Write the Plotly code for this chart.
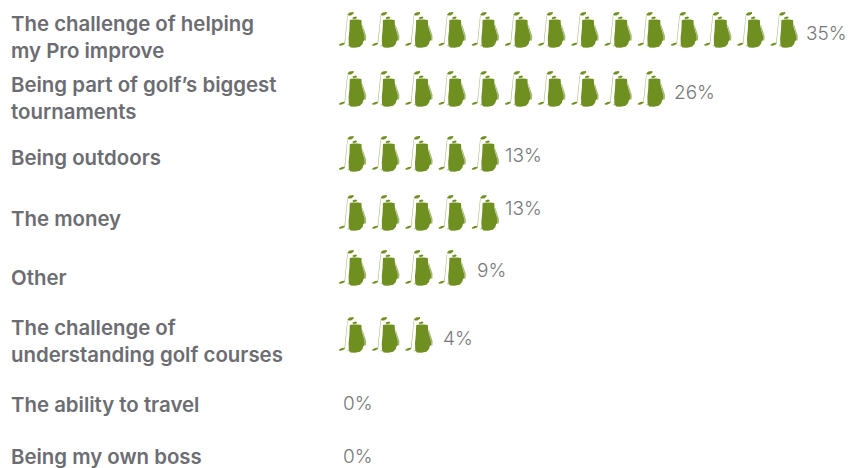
import plotly.graph_objects as go

# Survey answers, top to bottom
categories = [
    "The challenge of helping<br>my Pro improve",
    "Being part of golf’s biggest<br>tournaments",
    "Being outdoors",
    "The money",
    "Other",
    "The challenge of<br>understanding golf courses",
    "The ability to travel",
    "Being my own boss",
]
percent = [35, 26, 13, 13, 9, 4, 0, 0]
bag_counts = [14, 10, 5, 5, 4, 3, 0, 0]

# Vertical placement of each row's parts (y axis runs in page pixels)
label_y = [37, 98, 157, 218, 277, 341, 404, 456]
icon_y = [30, 89, 154, 213, 268, 335, 403, 460]
value_y = [33, 92, 155, 208, 270, 338, 403, 456]
value_nudge = [1, 2, -1, -1, 4, 3, 3, 3]

PITCH = 33.2      # pixels per golf bag
ORIGIN = 338      # pixel position of the first bag
GREEN = "#6f8f20"
PALE = "#a4b976"
GREY_LABEL = "#6c6d72"
GREY_VALUE = "#77787b"

# Golf bag outline, in pixels relative to the left/centre of one icon
BAG_BODY = [(11.8, -10.0), (15, -10.6), (19.5, -10.6), (23.4, -10.0), (23.8, -4), (25.0, 1),
            (26.6, 6), (26.6, 10), (25.2, 11.5), (24.6, 14), (22, 16.8), (17, 17.8),
            (12.5, 17.6), (10.8, 15), (10.6, 8), (11.4, 0)]
CLUB_HEAD_LOW = [(1, 14.5), (4, 13), (6.6, 12.8), (6.8, 14), (4, 15.6), (1.2, 15.8)]
CLUB_HEAD_TOP = [(9.4, -15.6), (11.5, -17.4), (15.6, -18.0), (15.6, -16.2), (13, -14.6), (10.4, -14.4)]
CLUB_HEAD_MID = [(14.5, -12.4), (17.5, -13.4), (19.2, -12.8), (18, -11.2), (15, -11)]
SHAFT = [(9.3, -14.6), (9.8, -14.4), (7.0, 13.5), (6.4, 13.5)]
SHAFT_2 = [(13.4, 15.0), (12, 16.2), (9.4, 16.2), (9.4, 15.6)]
STRAP = [(24.0, -5), (24.6, -5), (28.2, 6), (28.0, 10.6), (26.4, 10.6), (26.6, 6)]

solid_parts = [BAG_BODY, CLUB_HEAD_LOW, CLUB_HEAD_TOP, CLUB_HEAD_MID]
pale_parts = [SHAFT, SHAFT_2, STRAP]


def stamp(parts):
    xs, ys = [], []
    for centre, count in zip(icon_y, bag_counts):
        for i in range(count):
            for part in parts:
                for dx, dy in part + part[:1]:
                    xs.append(i + dx / PITCH)
                    ys.append(centre + dy)
                xs.append(None)
                ys.append(None)
    return xs, ys


fig = go.Figure()
for parts, colour in ((pale_parts, PALE), (solid_parts, GREEN)):
    xs, ys = stamp(parts)
    fig.add_trace(go.Scatter(x=xs, y=ys, mode="lines", fill="toself", fillcolor=colour,
                             line=dict(color=colour, width=0), hoverinfo="skip",
                             showlegend=False))

for text, y in zip(categories, label_y):
    fig.add_annotation(text=text, xref="paper", x=9 / 852, xanchor="left", y=y,
                       yanchor="middle", align="left", showarrow=False,
                       font=dict(family="Inter", size=20.4, color=GREY_LABEL, weight=600))

for pct, count, y, nudge in zip(percent, bag_counts, value_y, value_nudge):
    fig.add_annotation(text=f"{pct}%", x=count, xanchor="left", y=y, yanchor="middle",
                       xshift=nudge, showarrow=False,
                       font=dict(family="Inter", size=19, color=GREY_VALUE, weight=300))

fig.update_xaxes(range=[-ORIGIN / PITCH, (852 - ORIGIN) / PITCH], visible=False)
fig.update_yaxes(range=[468, 0], visible=False)
fig.update_layout(width=852, height=468, margin=dict(l=0, r=0, t=0, b=0),
                  paper_bgcolor="white", plot_bgcolor="white")
fig.write_html("out.html", config=dict(displayModeBar=False))
